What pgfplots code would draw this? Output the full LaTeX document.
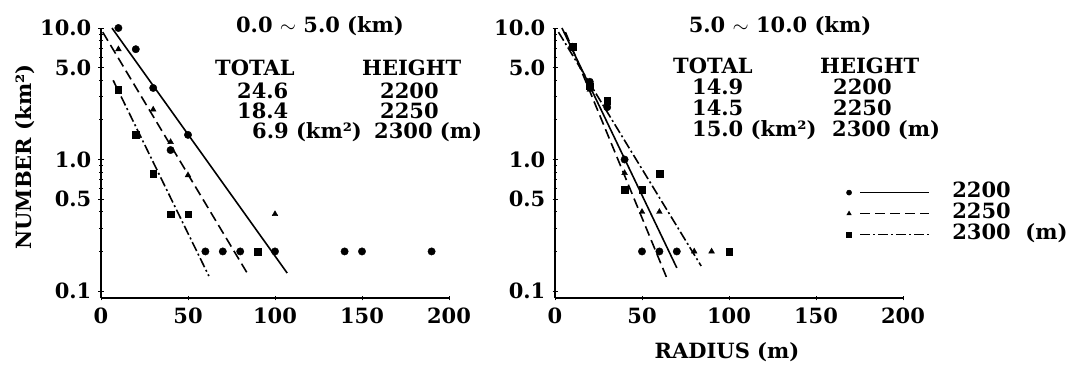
\documentclass[border=0pt]{standalone}
\usepackage{fontspec}
\setmainfont{DejaVu Serif}
\usepackage{pgfplots}
\pgfplotsset{compat=1.18}
\begin{document}
\fontsize{21pt}{25pt}\selectfont\bfseries
\begin{tikzpicture}
\useasboundingbox (0pt,0pt) rectangle (1072pt,367pt);
% ---------- left panel ----------
\begin{axis}[at={(101pt,69pt)}, anchor=south west,
  scale only axis, width=348pt, height=270pt,
  ymode=log,
  xmin=0, xmax=200, ymin=0.0885, ymax=10,
  axis lines=left, axis line style={-, line width=1.6pt},
  xtick={0,50,100,150,200}, xticklabels={0,50,100,150,200},
  ytick={0.1,0.5,1,5,10}, yticklabels={0.1,0.5,1.0,5.0,10.0},
  minor ytick={0.2,0.3,0.4,0.6,0.7,0.8,0.9,2,3,4,6,7,8,9},
  tick align=center, major tick length=5pt, minor tick length=3pt,
  tick style={line width=0.9pt, black},
  clip=false]
\addplot[only marks, mark=*, mark size=3.7pt, black] coordinates {(10,10) (20,6.9) (30,3.5) (40,1.18) (50,1.54) (60,0.2) (70,0.2) (80,0.2) (100,0.2) (140,0.2) (150,0.2) (190,0.2)};
\addplot[only marks, mark=triangle*, mark size=3.3pt, black] coordinates {(10,6.9) (30,2.4) (40,1.36) (50,0.76) (100,0.385)};
\addplot[only marks, mark=square*, mark size=3.3pt, black] coordinates {(10,3.4) (20,1.54) (30,0.78) (40,0.385) (50,0.385) (90,0.2)};
\addplot[no marks, black, line width=1.6pt, solid] coordinates {(6.3,10) (107,0.137)};
\addplot[no marks, black, line width=1.6pt, dash pattern=on 10pt off 5pt] coordinates {(1,9.3) (84,0.137)};
\addplot[no marks, black, line width=1.6pt, dash pattern=on 10pt off 3pt on 2pt off 3pt] coordinates {(7,4.0) (62,0.13)};
\end{axis}
% ---------- right panel ----------
\begin{axis}[at={(555pt,69pt)}, anchor=south west,
  scale only axis, width=348pt, height=270pt,
  ymode=log,
  xmin=0, xmax=200, ymin=0.0885, ymax=10,
  axis lines=left, axis line style={-, line width=1.6pt},
  xtick={0,50,100,150,200}, xticklabels={0,50,100,150,200},
  ytick={0.1,0.5,1,5,10}, yticklabels={0.1,0.5,1.0,5.0,10.0},
  minor ytick={0.2,0.3,0.4,0.6,0.7,0.8,0.9,2,3,4,6,7,8,9},
  tick align=center, major tick length=5pt, minor tick length=3pt,
  tick style={line width=0.9pt, black},
  clip=false,
  legend style={at={(rel axis cs:0.837,0.43)}, anchor=north west, draw=none, fill=none,
    inner sep=0pt, row sep=0pt,
    nodes={inner sep=1pt, text height=14pt, text depth=5pt}},
  legend cell align=left]
\addplot[only marks, mark=*, mark size=3.7pt, black, forget plot] coordinates {(10,7.2) (20,3.9) (30,2.5) (40,1.0) (50,0.2) (60,0.2) (70,0.2)};
\addplot[only marks, mark=triangle*, mark size=3.3pt, black, forget plot] coordinates {(10,7.2) (20,3.4) (30,2.5) (40,0.79) (50,0.40) (60,0.40) (80,0.2) (90,0.2)};
\addplot[only marks, mark=square*, mark size=3.3pt, black, forget plot] coordinates {(10,7.2) (20,3.6) (30,2.8) (40,0.59) (50,0.59) (60,0.78) (100,0.2)};
\addplot[no marks, black, line width=1.6pt, solid, forget plot] coordinates {(4,10) (70,0.15)};
\addplot[no marks, black, line width=1.6pt, dash pattern=on 10pt off 5pt, forget plot] coordinates {(6,9.3) (64,0.128)};
\addplot[no marks, black, line width=1.6pt, dash pattern=on 10pt off 3pt on 2pt off 3pt, forget plot] coordinates {(2,9.3) (84,0.155)};
\addlegendimage{black, solid, mark=*, mark size=2.6pt,
  legend image code/.code={\draw[mark options={solid}] plot coordinates {(0pt,0pt)};
   \draw[line width=1.6pt] (11pt,0pt) -- (80pt,0pt); \path (102pt,0pt);}}
\addlegendentry{2200}
\addlegendimage{black, dash pattern=on 10pt off 5pt, mark=triangle*, mark size=2.6pt,
  legend image code/.code={\draw[mark options={solid}] plot coordinates {(0pt,0pt)};
   \draw[line width=1.6pt] (11pt,0pt) -- (80pt,0pt); \path (102pt,0pt);}}
\addlegendentry{2250}
\addlegendimage{black, dash pattern=on 10pt off 3pt on 2pt off 3pt, mark=square*, mark size=2.6pt,
  legend image code/.code={\draw[mark options={solid}] plot coordinates {(0pt,0pt)};
   \draw[line width=1.6pt] (11pt,0pt) -- (80pt,0pt); \path (102pt,0pt);}}
\addlegendentry{2300\ \ (m)}
\end{axis}
% ---------- texts ----------
\node[rotate=90] at (25pt,210pt) {NUMBER (km²)};
\node at (727pt,15pt) {RADIUS (m)};
\node at (320pt,341pt) {0.0 $\sim$ 5.0 (km)};
\node at (780pt,341pt) {5.0 $\sim$ 10.0 (km)};
\begin{scope}[every node/.style={anchor=west, inner sep=0pt, text height=14pt, text depth=3pt}]
\node at (215pt,297pt) {TOTAL};
\node at (362pt,297pt) {HEIGHT};
\node at (237pt,274pt) {24.6};
\node at (237pt,254pt) {18.4};
\node at (252pt,234pt) {6.9 (km²)};
\node at (380pt,274pt) {2200};
\node at (380pt,254pt) {2250};
\node at (374pt,234pt) {2300 (m)};
\node at (673pt,299pt) {TOTAL};
\node at (820pt,299pt) {HEIGHT};
\node at (692pt,278pt) {14.9};
\node at (692pt,257pt) {14.5};
\node at (692pt,236pt) {15.0 (km²)};
\node at (833pt,278pt) {2200};
\node at (833pt,257pt) {2250};
\node at (832pt,236pt) {2300 (m)};
\end{scope}
\end{tikzpicture}
\end{document}
